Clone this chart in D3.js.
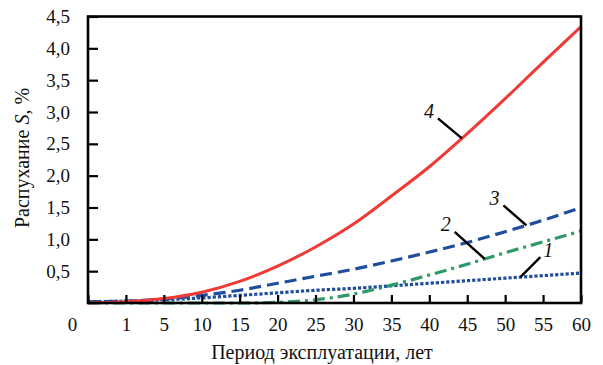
<!DOCTYPE html>
<html>
<head>
<meta charset="utf-8">
<script src="https://cdn.jsdelivr.net/npm/d3@7"></script>
<style>
  html, body { margin: 0; padding: 0; background: #fff; }
  svg { display: block; font-family: "Liberation Serif", "DejaVu Serif", serif; }
</style>
</head>
<body>
<svg id="chart" width="603" height="365"></svg>
<script>
// Operating period, years (tick positions are evenly spaced)
const years = [0, 1, 5, 10, 15, 20, 25, 30, 35, 40, 45, 50, 55, 60];
const yTicks = [0.5, 1.0, 1.5, 2.0, 2.5, 3.0, 3.5, 4.0, 4.5];

// Swelling S, % for each curve, sampled at the years above
const swell1 = [0.02, 0.03, 0.05, 0.08, 0.12, 0.16, 0.20, 0.23, 0.27, 0.31, 0.35, 0.39, 0.43, 0.47];
const swell2 = [0.00, 0.00, 0.00, 0.00, 0.00, 0.01, 0.05, 0.14, 0.28, 0.44, 0.61, 0.79, 0.96, 1.13];
const swell3 = [0.02, 0.03, 0.06, 0.12, 0.20, 0.31, 0.42, 0.53, 0.66, 0.80, 0.95, 1.12, 1.30, 1.50];
const swell4 = [0.00, 0.02, 0.07, 0.17, 0.34, 0.58, 0.88, 1.24, 1.68, 2.14, 2.66, 3.21, 3.78, 4.34];

const seriesNames = ["1", "2", "3", "4"];
const seriesValues = [swell1, swell2, swell3, swell4];
const seriesColors = ["#1f4e9c", "#2f9a68", "#1f4e9c", "#f03a35"];
const seriesDash = ["3.2,2", "12,5,3,5", "12,6", null];

// Callout labels: where the leader touches the curve (year), label offset
const calloutYear = [52.0, 47.3, 52.8, 44.3];
const calloutOffset = [[28, -25], [-39, -32], [-32, -25], [-33, -25]];

const FONT = '"Liberation Serif", "DejaVu Serif", serif';
const svg = d3.select("#chart");
const plotL = 88, plotR = 581, plotT = 16.5, plotB = 303;

const step = (plotR - plotL) / (years.length - 1);
const x = d3.scaleLinear()
  .domain(years)
  .range(years.map((d, i) => plotL + i * step));
const y = d3.scaleLinear().domain([0, 4.5]).range([plotB, plotT]);

const locale = d3.formatLocale({ decimal: ",", thousands: " ", grouping: [3], currency: ["", ""] });
const fmt = locale.format(".1f");

// Curves
const line = d3.line()
  .x((d, i) => x(years[i]))
  .y(d => y(d))
  .curve(d3.curveMonotoneX);

const paths = seriesValues.map((vals, k) => {
  return svg.append("path")
    .datum(vals)
    .attr("d", line)
    .attr("fill", "none")
    .attr("stroke", seriesColors[k])
    .attr("stroke-width", k === 3 ? 3 : 3.2)
    .attr("stroke-dasharray", seriesDash[k]);
});

// Axes
const gx = svg.append("g")
  .attr("transform", `translate(0,${plotB})`)
  .call(d3.axisBottom(x).tickValues(years).tickFormat(d3.format("d"))
    .tickSizeInner(-8).tickSizeOuter(0).tickPadding(15))
  .attr("font-family", FONT);
gx.select(".domain").remove();
gx.selectAll(".tick line").attr("stroke", "#000").attr("stroke-width", 2.2);
gx.selectAll(".tick text")
  .attr("font-size", 19)
  .attr("fill", "#111")
  .attr("dx", d => d === 0 ? -16 : 0);

const gy = svg.append("g")
  .attr("transform", `translate(${plotL},0)`)
  .call(d3.axisLeft(y).tickValues(yTicks).tickFormat(fmt)
    .tickSizeInner(-10).tickSizeOuter(0).tickPadding(18))
  .attr("font-family", FONT);
gy.select(".domain").remove();
gy.selectAll(".tick line").attr("stroke", "#000").attr("stroke-width", 2.2);
gy.selectAll(".tick text").attr("font-size", 19).attr("fill", "#111");

// Frame
svg.append("rect")
  .attr("x", plotL).attr("y", plotT)
  .attr("width", plotR - plotL).attr("height", plotB - plotT)
  .attr("fill", "none").attr("stroke", "#000").attr("stroke-width", 2.6);

// Callouts: find the curve point at the given year along each path
function pointAtX(pathNode, px) {
  const len = pathNode.getTotalLength();
  let lo = 0, hi = len;
  for (let i = 0; i < 40; i++) {
    const mid = (lo + hi) / 2;
    if (pathNode.getPointAtLength(mid).x < px) lo = mid; else hi = mid;
  }
  return pathNode.getPointAtLength((lo + hi) / 2);
}

seriesNames.forEach((name, k) => {
  const pt = pointAtX(paths[k].node(), x(calloutYear[k]));
  const [ox, oy] = calloutOffset[k];
  const lx = pt.x + ox, ly = pt.y + oy;
  // leader line from near the label to the curve
  const sx = lx + (ox < 0 ? 9 : -8), sy = ly + 5;
  svg.append("line")
    .attr("x1", sx).attr("y1", sy)
    .attr("x2", pt.x).attr("y2", pt.y)
    .attr("stroke", "#000").attr("stroke-width", 2.4);
  svg.append("text")
    .attr("x", lx).attr("y", ly)
    .attr("text-anchor", "middle")
    .attr("dominant-baseline", "middle")
    .attr("font-family", FONT)
    .attr("font-size", 20)
    .attr("font-style", "italic")
    .attr("fill", "#111")
    .text(name);
});

// Axis titles
svg.append("text")
  .attr("x", 322).attr("y", 359)
  .attr("text-anchor", "middle")
  .attr("font-family", FONT)
  .attr("font-size", 20)
  .attr("fill", "#111")
  .text("Период эксплуатации, лет");

const yt = svg.append("text")
  .attr("transform", "translate(29,158) rotate(-90)")
  .attr("text-anchor", "middle")
  .attr("font-family", FONT)
  .attr("font-size", 20)
  .attr("fill", "#111");
yt.append("tspan").text("Распухание ");
yt.append("tspan").attr("font-style", "italic").text("S");
yt.append("tspan").text(", %");
</script>
</body>
</html>
